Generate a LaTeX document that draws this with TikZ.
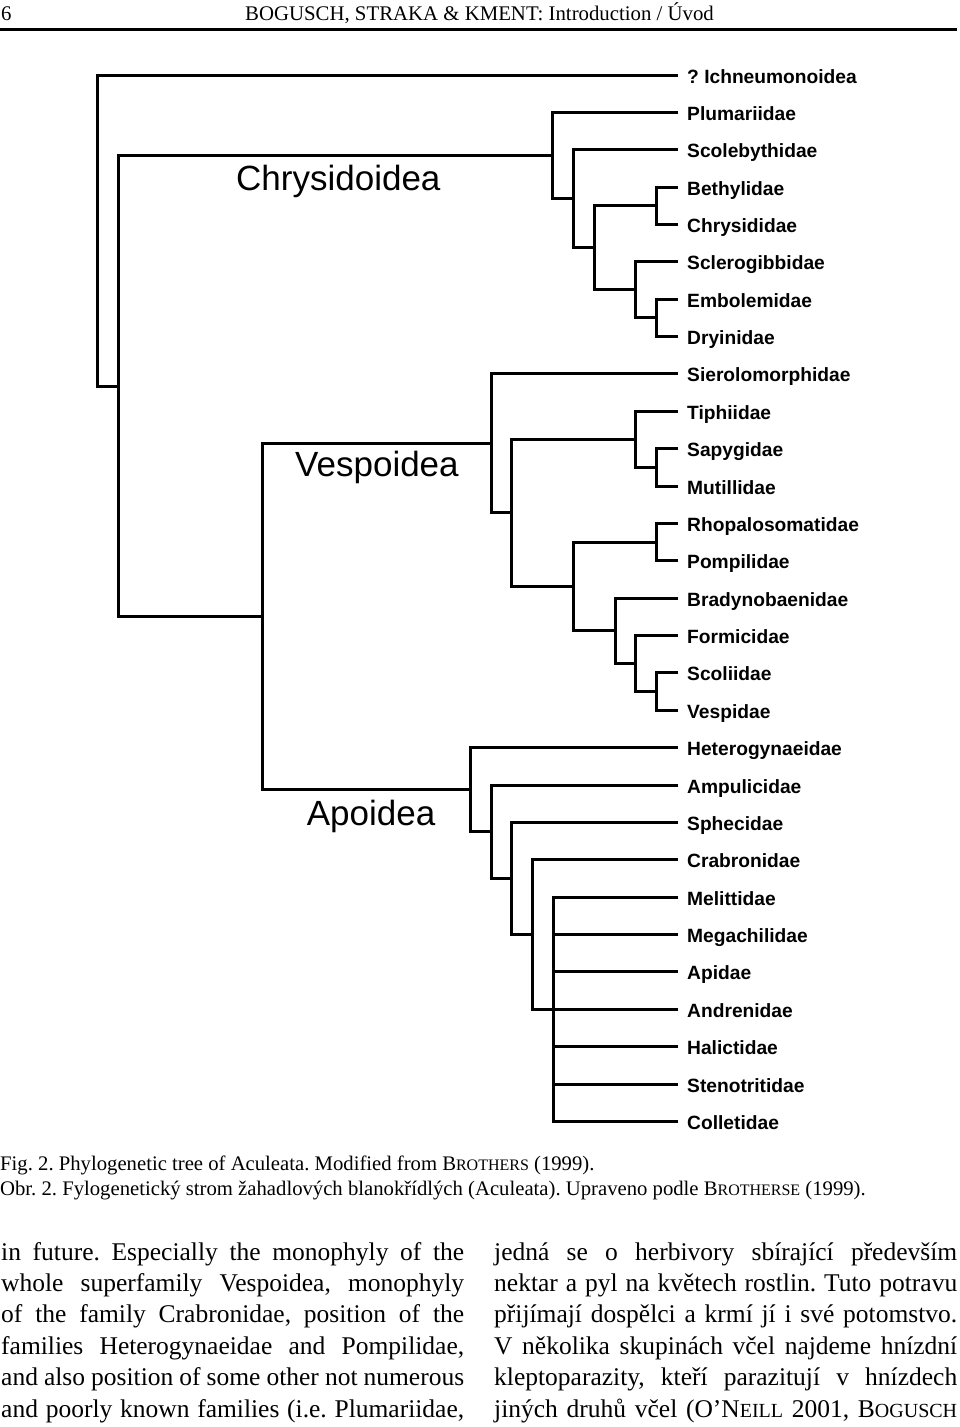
\documentclass[tikz,border=0pt]{standalone}
\usepackage{fontspec}
\setmainfont{Liberation Serif}
\newfontfamily\arialfont{Liberation Sans}
\usetikzlibrary{calc}
\frenchspacing
\newcommand\clade[4]{%
  \path ($(#3)!0.5!(#4)$) coordinate (#1m);
  \coordinate (#1x) at (#2,0);
  \coordinate (#1) at (#1m -| #1x);
  \draw[branch] (#3) -| (#1) |- (#4);}
\begin{document}
\begin{tikzpicture}[x=1pt,y=-1pt,
  branch/.style={line width=3pt, line join=miter, line cap=butt},
  leaflabel/.style={anchor=base west, inner sep=0pt, font=\arialfont\bfseries\fontsize{19.2}{22}\selectfont},
  cladelabel/.style={anchor=base west, inner sep=0pt, font=\arialfont\fontsize{35}{40}\selectfont},
  headtext/.style={anchor=base west, inner sep=0pt, font=\fontsize{20.8}{24}\selectfont},
  capt/.style={anchor=base west, inner sep=0pt, font=\fontsize{20.7}{24}\selectfont},
  bodyline/.style={anchor=base west, inner sep=0pt, font=\fontsize{25.5}{30}\selectfont}]
\useasboundingbox (0,0) rectangle (960,1427);

% header
\node[headtext] (pgno) at (1,20) {6};
\node[headtext] (head) at (245,20) {BOGUSCH, STRAKA \& KMENT: Introduction / Úvod};
\draw[line width=2.5pt] (0,29.3) -- (957,29.3);

% leaves
\foreach \n [count=\i from 0] in {? Ichneumonoidea,Plumariidae,Scolebythidae,Bethylidae,Chrysididae,Sclerogibbidae,Embolemidae,Dryinidae,Sierolomorphidae,Tiphiidae,Sapygidae,Mutillidae,Rhopalosomatidae,Pompilidae,Bradynobaenidae,Formicidae,Scoliidae,Vespidae,Heterogynaeidae,Ampulicidae,Sphecidae,Crabronidae,Melittidae,Megachilidae,Apidae,Andrenidae,Halictidae,Stenotritidae,Colletidae}{
  \coordinate (L\i) at (678,{75+37.37*\i});
  \node[leaflabel] (t\i) at (687,{83+37.37*\i}) {\n};
}

% Chrysidoidea
\clade{cBC}{656}{L3}{L4}
\clade{cED}{656}{L6}{L7}
\clade{cSED}{635.7}{L5}{cED}
\clade{cB}{594.3}{cBC}{cSED}
\clade{cA}{573.3}{L2}{cB}
\clade{chry}{552.7}{L1}{cA}

% Vespoidea
\clade{vSM}{656}{L10}{L11}
\clade{vTSM}{635.7}{L9}{vSM}
\clade{vRP}{656}{L12}{L13}
\clade{vSV}{656}{L16}{L17}
\clade{vFSV}{635.7}{L15}{vSV}
\clade{vBFSV}{615}{L14}{vFSV}
\clade{vRPB}{573.3}{vRP}{vBFSV}
\clade{vTwo}{511.7}{vTSM}{vRPB}
\clade{vesp}{491}{L8}{vTwo}

% Apoidea
\coordinate (polyx) at (553.3,0);
\coordinate (poly) at (L25 -| polyx);
\draw[branch] (L22) -| (poly) |- (L28);
\foreach \i in {23,...,27} \draw[branch] (L\i -| poly) -- (L\i);
\clade{aCrab}{532.3}{L21}{poly}
\clade{aSph}{511.7}{L20}{aCrab}
\clade{aAmp}{491}{L19}{aSph}
\clade{apo}{470}{L18}{aAmp}

% root part
\clade{va}{262.7}{vesp}{apo}
\clade{cva}{118.3}{chry}{va}
\clade{root}{97.7}{L0}{cva}

% clade labels
\node[cladelabel] (lchry) at (236,190) {Chrysidoidea};
\node[cladelabel] (lvesp) at (295,476.7) {Vespoidea};
\node[cladelabel] (lapo) at (306.7,825) {Apoidea};

% caption
\node[capt] (cap1) at (0,1170) {Fig. 2. Phylogenetic tree of Aculeata. Modified from B{\fontsize{16}{0}\selectfont ROTHERS} (1999).};
\node[capt] (cap2) at (0,1195) {Obr. 2. Fylogenetický strom žahadlových blanokřídlých (Aculeata). Upraveno podle B{\fontsize{16}{0}\selectfont ROTHERSE} (1999).};

% body text, left column
\node[bodyline] (a1) at (1,1260) {\makebox[463pt][s]{in future. Especially the monophyly of the}};
\node[bodyline] (a2) at (1,1291.4) {\makebox[463pt][s]{whole superfamily Vespoidea, monophyly}};
\node[bodyline] (a3) at (1,1322.8) {\makebox[463pt][s]{of the family Crabronidae, position of the}};
\node[bodyline] (a4) at (1,1354.2) {\makebox[463pt][s]{families Heterogynaeidae and Pompilidae,}};
\node[bodyline] (a5) at (1,1385.6) {\makebox[463pt][s]{and also position of some other not numerous}};
\node[bodyline] (a6) at (1,1417) {\makebox[463pt][s]{and poorly known families (i.e. Plumariidae,}};

% body text, right column
\node[bodyline] (b1) at (494,1260) {\makebox[463pt][s]{jedná se o herbivory sbírající především}};
\node[bodyline] (b2) at (494,1291.4) {\makebox[463pt][s]{nektar a pyl na květech rostlin. Tuto potravu}};
\node[bodyline] (b3) at (494,1322.8) {\makebox[463pt][s]{přijímají dospělci a krmí jí i své potomstvo.}};
\node[bodyline] (b4) at (494,1354.2) {\makebox[463pt][s]{V několika skupinách včel najdeme hnízdní}};
\node[bodyline] (b5) at (494,1385.6) {\makebox[463pt][s]{kleptoparazity, kteří parazitují v hnízdech}};
\node[bodyline] (b6) at (494,1417) {\makebox[463pt][s]{jiných druhů včel (O’N{\fontsize{20}{0}\selectfont EILL} 2001, B{\fontsize{20}{0}\selectfont OGUSCH}}};
\end{tikzpicture}
\end{document}
